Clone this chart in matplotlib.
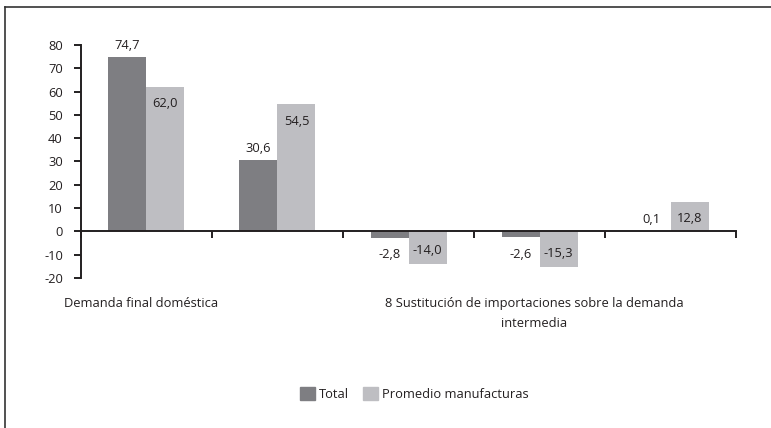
import matplotlib.pyplot as plt
import matplotlib.transforms as mtransforms
from matplotlib.lines import Line2D
from matplotlib.patches import Patch
import numpy as np

plt.rcParams['font.family'] = ['Open Sans', 'DejaVu Sans']

categories = ["Demanda final doméstica", "", "",
              "8 Sustitución de importaciones sobre la demanda\nintermedia", ""]
total = [74.7, 30.6, -2.8, -2.6, 0.1]
promedio = [62.0, 54.5, -14.0, -15.3, 12.8]
series_names = ["Total", "Promedio manufacturas"]
yticks = [-20, -10, 0, 10, 20, 30, 40, 50, 60, 70, 80]

c_total = "#7e7e82"
c_prom = "#bebec2"
txt = "#231f20"

fig = plt.figure(figsize=(7.71, 4.28), dpi=100)
ax = fig.add_axes([0.105, 0.3505, 0.8497, 0.5444])

x = np.arange(len(categories))
w = 0.29
ax.bar(x - w / 2, total, w, color=c_total, zorder=2)
ax.bar(x + w / 2, promedio, w, color=c_prom, zorder=2)

fs = 9.3
def fmt(v):
    return f"{v:.1f}".replace(".", ",")

# Total labels sit outside the bar end
for xi, v in zip(x - w / 2, total):
    off = 12 if v >= 0 else -17
    ax.annotate(fmt(v), (xi, v), xytext=(0, off * 0.72), textcoords="offset points",
                ha="center", va="center", fontsize=fs, color=txt)
# Promedio labels inside the bar end
for xi, v in zip(x + w / 2, promedio):
    off = -17 if v >= 0 else 14
    ax.annotate(fmt(v), (xi, v), xytext=(0, off * 0.72), textcoords="offset points",
                ha="center", va="center", fontsize=fs, color=txt)

ax.set_xlim(-0.5, len(categories) - 0.5)
ax.set_ylim(-20, 80)
ax.set_yticks(yticks)
ax.set_yticklabels([str(t) for t in yticks], fontsize=fs, color=txt)
ax.set_xticks(np.arange(len(categories) + 1) - 0.5)
ax.set_xticklabels([])

for s in ["top", "right"]:
    ax.spines[s].set_visible(False)
ax.spines["bottom"].set_position(("data", 0))
for s in ["left", "bottom"]:
    ax.spines[s].set_linewidth(1.4)
    ax.spines[s].set_color(txt)
ax.spines["bottom"].set_zorder(3)
ax.tick_params(axis="y", length=5, width=1.4, color=txt, pad=8)
ax.tick_params(axis="x", length=5, width=1.4, color=txt)

trans = mtransforms.blended_transform_factory(ax.transData, fig.transFigure)
for xi, name in zip(x, categories):
    if name:
        ax.text(xi - 0.04, 0.305, name, transform=trans, ha="center", va="top",
                fontsize=fs, color=txt, linespacing=1.7)

handles = [Patch(color=c_total), Patch(color=c_prom)]
fig.legend(handles, series_names, loc="center", bbox_to_anchor=(0.537, 0.08),
           ncol=2, frameon=False, fontsize=fs, handlelength=1.2, handleheight=1.2,
           handletextpad=0.25, columnspacing=1.1, labelcolor=txt)

# outer frame: only left and top edges visible
fig.add_artist(Line2D([0.0065, 0.0065], [0.0, 0.984], transform=fig.transFigure,
                      color="#333333", linewidth=1.2))
fig.add_artist(Line2D([0.0065, 1.0], [0.984, 0.984], transform=fig.transFigure,
                      color="#333333", linewidth=1.2))

fig.savefig("out.png", dpi=100)
